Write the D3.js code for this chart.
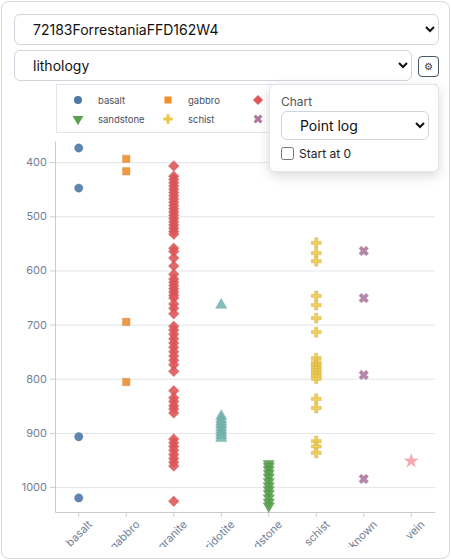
<!DOCTYPE html>
<html><head><meta charset="utf-8">
<script src="https://cdn.jsdelivr.net/npm/d3@7"></script>
<style>
body{margin:0;font-family:Inter,"Noto Sans",sans-serif;background:#fff;}
.card{position:absolute;left:1px;top:1px;width:447px;height:556px;border:1px solid #d5dbe3;border-radius:8px;overflow:hidden;}
select{position:absolute;font-family:Inter,sans-serif;font-size:14px;color:#111;background:#fff;border:1px solid #cfd5dc;border-radius:6px;padding:0 0 0 14px;}
.gear{position:absolute;left:416px;top:54px;width:19px;height:19px;border:1px solid #4a5568;border-radius:4px;font-size:10px;text-align:center;line-height:19px;color:#333;}
.pop{position:absolute;left:267px;top:82px;width:168px;height:86px;background:#fff;border:1px solid #e2e6ea;border-radius:6px;box-shadow:0 4px 12px rgba(0,0,0,.15);}
.pop .lbl{position:absolute;left:11px;top:9px;font-size:12px;color:#555;}
.pop label{position:absolute;left:11px;top:61px;font-size:12px;color:#222;display:flex;align-items:center;gap:5px;}
.pop input{margin:0;width:13px;height:13px;}
svg{position:absolute;left:0;top:0;}
</style></head><body>
<div class="card">
<svg id="chart" width="447" height="545"></svg>
<select style="left:12px;top:12px;width:425px;height:31px"><option>72183ForrestaniaFFD162W4</option></select>
<select style="left:12px;top:48px;width:398px;height:31px"><option>lithology</option></select>
<div class="gear">⚙</div>
<div class="pop"><div class="lbl">Chart</div>
<select style="left:11px;top:26px;width:148px;height:29px;font-size:14px"><option>Point log</option></select>
<label><input type="checkbox">Start at 0</label></div>
</div>
<script>
var categories = ["basalt","gabbro","granite","peridotite","sandstone","schist","unknown","vein"];
var colors = ["#4e79a7","#f28e2c","#e15759","#76b7b2","#59a14f","#edc949","#af7aa1","#ff9da7"];
var basalt = [374,448,907,1020];
var gabbro = [394,417,695,806];
var granite = [407,426,432,438,444,450,456,462,468,474,480,486,492,498,504,510,516,522,528,533,559,565,577,592,607,616,622,628,634,640,646,651,662,670,680,
  703,710,718,726,734,742,750,758,766,774,786,822,835,842,850,856,863,911,918,925,932,940,947,954,961,1026];
var peridotite = [664,869,875,880,885,890,895,900,905,910];
var sandstone = [957,962,968,975,982,990,998,1005,1012,1020,1028,1035];
var schist = [549,568,583,647,664,688,714,762,770,775,780,785,790,795,800,837,854,915,925,937];
var unknown = [564,651,793,985];
var vein = [952];
var series = [basalt,gabbro,granite,peridotite,sandstone,schist,unknown,vein];
var yTicks = [400,500,600,700,800,900,1000];

var svg = d3.select("#chart");
var x = d3.scaleBand().domain(categories).range([53,433]);
var y = d3.scaleLinear().domain([361,1046]).range([139,510]);
var symbols = [d3.symbolCircle,d3.symbolSquare,"diamond",d3.symbolTriangle,"down",d3.symbolCross,"x",d3.symbolStar];
function path(i, sz){
  var s = symbols[i];
  if (s=="down") return {d:d3.symbol(d3.symbolTriangle,sz)(), r:180};
  if (s=="x") return {d:d3.symbol(d3.symbolCross,sz)(), r:45};
  if (s=="diamond") return {d:d3.symbol(d3.symbolSquare,sz)(), r:45};
  return {d:d3.symbol(s,sz)(), r:0};
}

// grid + y axis
svg.append("g").selectAll("line").data(yTicks).join("line")
  .attr("x1",53).attr("x2",433).attr("y1",d=>y(d)+.5).attr("y2",d=>y(d)+.5).attr("stroke","#e3e5e8");
var ya = svg.append("g").attr("transform","translate(53,0)").call(d3.axisLeft(y).tickValues(yTicks).tickFormat(d3.format("d")).tickSize(5).tickSizeOuter(0));
var xa = svg.append("g").attr("transform","translate(0,510)").call(d3.axisBottom(x).tickSize(5).tickSizeOuter(0));
[ya,xa].forEach(function(a){ a.selectAll("path,line").attr("stroke","#c8ccd2"); a.selectAll("text").attr("fill","#718096").attr("font-size",11).attr("font-family","Inter,sans-serif");});
xa.selectAll("text").attr("text-anchor","end").attr("transform","translate(3,2) rotate(-45)").attr("dy","0.7em");

series.forEach(function(vals,i){
  var p = path(i, 55);
  svg.append("g").selectAll("path").data(vals).join("path")
    .attr("d",p.d)
    .attr("transform",d=>"translate("+(x(categories[i])+x.bandwidth()/2)+","+y(d)+") rotate("+p.r+")")
    .attr("fill",colors[i]).attr("fill-opacity",.9)
    .attr("stroke",d3.color(colors[i]).darker(.6)).attr("stroke-opacity",.3).attr("stroke-width",1);
});

// legend
var lg = svg.append("g");
lg.append("rect").attr("x",54.5).attr("y",82.5).attr("width",380).attr("height",48).attr("fill","#fff").attr("stroke","#e2e6ea");
categories.forEach(function(c,i){
  var cx = 76 + (i%4)*90, cy = 98 + Math.floor(i/4)*19, p = path(i, 50);
  lg.append("path").attr("d",p.d).attr("transform","translate("+cx+","+cy+") rotate("+p.r+")").attr("fill",colors[i]);
  lg.append("text").attr("x",cx+20).attr("y",cy+3.5).text(c).attr("font-size",9.5).attr("fill","#4a5060").attr("font-family","Inter,sans-serif");
});
</script></body></html>
